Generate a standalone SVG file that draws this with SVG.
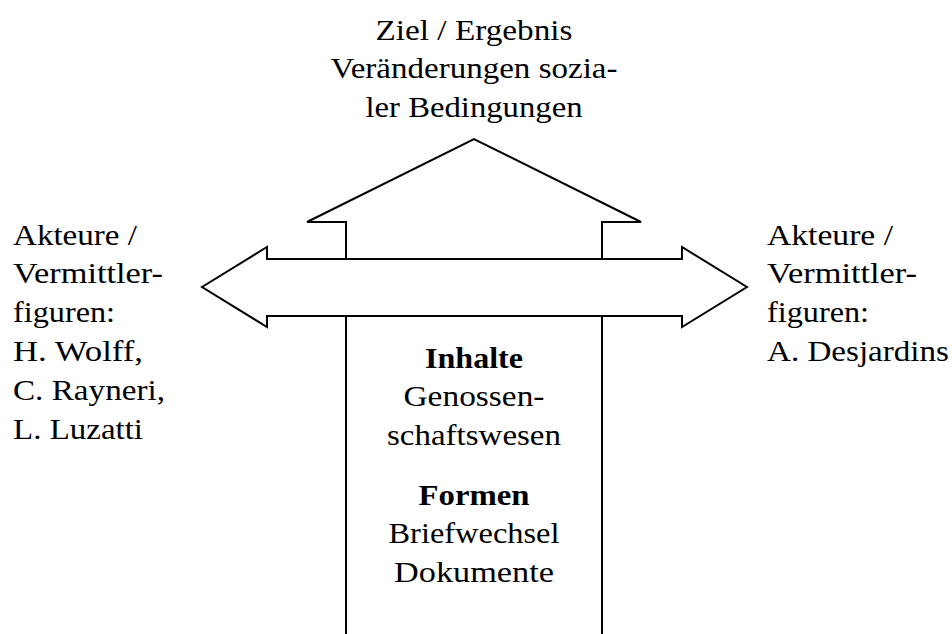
<svg xmlns="http://www.w3.org/2000/svg" width="952" height="634" viewBox="0 0 952 634">
  <style>
    text { font-family: 'Liberation Serif', 'Times New Roman', Tinos, 'DejaVu Serif', serif; font-size: 29px; fill: #000; }
    .c { text-anchor: middle; }
    .b { font-weight: bold; }
    .ln { fill: #fff; stroke: #000; stroke-width: 2; stroke-linejoin: miter; }
    .st { fill: none; stroke: #000; stroke-width: 2; }
  </style>
  <rect width="952" height="634" fill="#fff"/>
  <g id="connectors">
    <polyline class="st" points="346,259 346,222 307,222 474,139 641,222 602,222 602,259"/>
    <polygon class="ln" points="202,287 267,247 267,259 682,259 682,247 747,287 682,327 682,316 267,316 267,327"/>
    <line class="st" x1="346" y1="316" x2="346" y2="634"/>
    <line class="st" x1="602" y1="316" x2="602" y2="634"/>
  </g>
  <g id="goal">
    <text class="c" x="474" y="40" textLength="197" lengthAdjust="spacingAndGlyphs">Ziel / Ergebnis</text>
    <text class="c" x="474" y="78" textLength="287" lengthAdjust="spacingAndGlyphs">Veränderungen sozia-</text>
    <text class="c" x="474" y="117" textLength="217" lengthAdjust="spacingAndGlyphs">ler Bedingungen</text>
  </g>
  <g id="actors-left">
    <text x="13" y="245" textLength="124" lengthAdjust="spacingAndGlyphs">Akteure /</text>
    <text x="13" y="283" textLength="150" lengthAdjust="spacingAndGlyphs">Vermittler-</text>
    <text x="13" y="322" textLength="102" lengthAdjust="spacingAndGlyphs">figuren:</text>
    <text x="13" y="361" textLength="130" lengthAdjust="spacingAndGlyphs">H. Wolff,</text>
    <text x="13" y="400" textLength="152" lengthAdjust="spacingAndGlyphs">C. Rayneri,</text>
    <text x="13" y="439" textLength="130" lengthAdjust="spacingAndGlyphs">L. Luzatti</text>
  </g>
  <g id="actors-right">
    <text x="767" y="245" textLength="126" lengthAdjust="spacingAndGlyphs">Akteure /</text>
    <text x="767" y="283" textLength="150" lengthAdjust="spacingAndGlyphs">Vermittler-</text>
    <text x="767" y="322" textLength="102" lengthAdjust="spacingAndGlyphs">figuren:</text>
    <text x="767" y="361" textLength="182" lengthAdjust="spacingAndGlyphs">A. Desjardins</text>
  </g>
  <g id="content">
    <text class="c b" x="474" y="368" textLength="98" lengthAdjust="spacingAndGlyphs">Inhalte</text>
    <text class="c" x="474" y="406" textLength="141" lengthAdjust="spacingAndGlyphs">Genossen-</text>
    <text class="c" x="474" y="445" textLength="174" lengthAdjust="spacingAndGlyphs">schaftswesen</text>
    <text class="c b" x="474" y="505" textLength="111" lengthAdjust="spacingAndGlyphs">Formen</text>
    <text class="c" x="474" y="543" textLength="171" lengthAdjust="spacingAndGlyphs">Briefwechsel</text>
    <text class="c" x="474" y="582" textLength="160" lengthAdjust="spacingAndGlyphs">Dokumente</text>
  </g>
</svg>
